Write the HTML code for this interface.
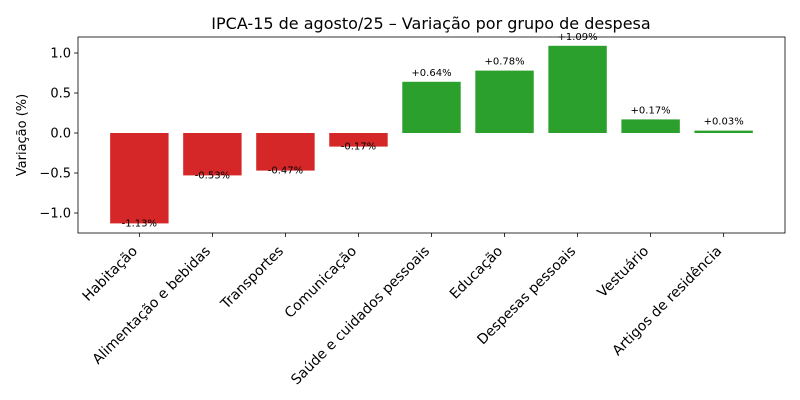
<!DOCTYPE html>
<html><head><meta charset="utf-8"><style>
html,body{margin:0;padding:0;background:#fff;}
svg{display:block;font-family:"DejaVu Sans","Liberation Sans",sans-serif;}
</style></head><body>
<svg id="chart" width="800" height="400" viewBox="0 0 800 400">
<rect width="800" height="400" fill="#fff"/>
<text x="431" y="29" font-size="16" text-anchor="middle">IPCA-15 de agosto/25 – Variação por grupo de despesa</text>
<text transform="translate(26,135) rotate(-90)" font-size="13" text-anchor="middle">Variação (%)</text>
<g id="plot"></g>
</svg>
<script>
const categories = ["Habitação","Alimentação e bebidas","Transportes","Comunicação","Saúde e cuidados pessoais","Educação","Despesas pessoais","Vestuário","Artigos de residência"];
const values = [-1.13,-0.53,-0.47,-0.17,0.64,0.78,1.09,0.17,0.03];
const yTicks = [-1.0,-0.5,0.0,0.5,1.0];
const yTickLabels = ["−1.0","−0.5","0.0","0.5","1.0"];

const L=78,R=785,T=37,B=233;
const xMin=-0.84,xMax=8.84,yMin=-1.25,yMax=1.2;
const xs=i=>L+(i-xMin)/(xMax-xMin)*(R-L);
const ys=v=>B-(v-yMin)/(yMax-yMin)*(B-T);
const NS="http://www.w3.org/2000/svg";
const g=document.getElementById('plot');
function mk(tag,attrs,parent){const e=document.createElementNS(NS,tag);for(const k in attrs)e.setAttribute(k,attrs[k]);(parent||g).appendChild(e);return e;}

const bw=0.8*(xs(1)-xs(0));
values.forEach((v,i)=>{
  const y0=ys(0),y1=ys(v);
  const r=mk('rect',{x:xs(i)-bw/2,y:Math.min(y0,y1),width:bw,height:Math.abs(y1-y0),fill:v<0?'#d62728':'#2ca02c'});
  
  
  const lbl=(v>0?'+':'')+v.toFixed(2)+'%';
  const t=mk('text',{x:xs(i),y:v>0?y1-6:y1+3,'font-size':'10','text-anchor':'middle'});
  t.textContent=lbl;
  
  
  mk('line',{x1:xs(i),x2:xs(i),y1:B,y2:B+4,stroke:'#000','stroke-width':0.8});
  const xl=mk('text',{transform:`translate(${xs(i)-8},${B+12}) rotate(-45)`,'font-size':'14','text-anchor':'end','dominant-baseline':'hanging'});
  xl.textContent=categories[i];
  
  
});
yTicks.forEach((v,i)=>{
  mk('line',{x1:L-4,x2:L,y1:ys(v),y2:ys(v),stroke:'#000','stroke-width':0.8});
  const t=mk('text',{x:L-7,y:ys(v)+4.5,'font-size':'13','text-anchor':'end'});
  t.textContent=yTickLabels[i];
  
  
});
const f=mk('rect',{x:L,y:T,width:R-L,height:B-T,fill:'none',stroke:'#000','stroke-width':0.8});


</script>
</body></html>
